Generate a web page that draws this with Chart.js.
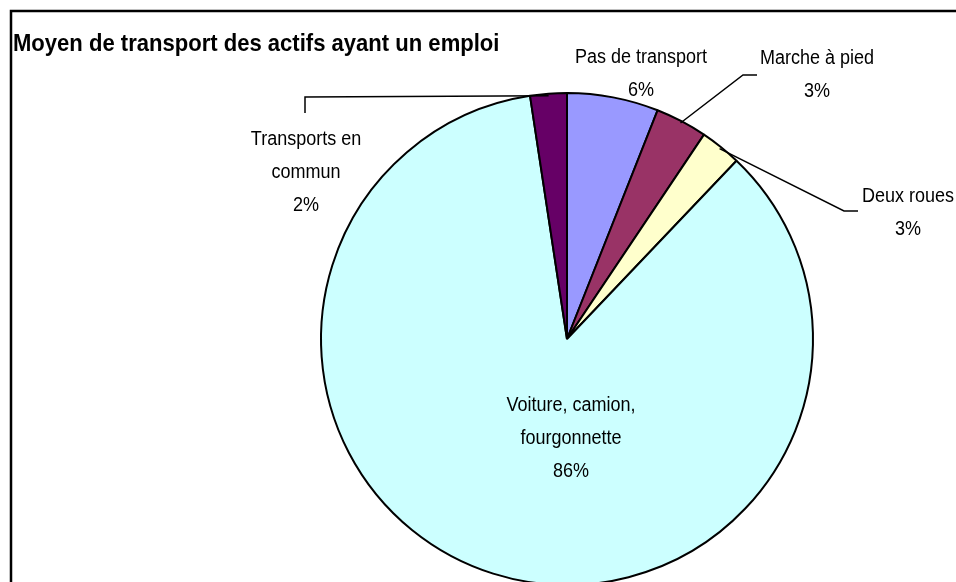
<!DOCTYPE html>
<html>
<head>
<meta charset="utf-8">
<script src="https://cdn.jsdelivr.net/npm/chart.js@4/dist/chart.umd.min.js"></script>
<style>
html,body{margin:0;padding:0;background:#fff;overflow:hidden;}
#wrap{position:absolute;left:0;top:0;width:956px;height:700px;}
</style>
</head>
<body>
<div id="wrap"><canvas id="c" width="956" height="700"></canvas></div>
<script>
// ---- data ----
const title = 'Moyen de transport des actifs ayant un emploi';
const categories = [
  ['Pas de transport'],
  ['Marche à pied'],
  ['Deux roues'],
  ['Voiture, camion,', 'fourgonnette'],
  ['Transports en', 'commun']
];
const shares = [6.0, 3.4, 2.7, 85.5, 2.4];
const colors = ['#9999FF', '#993366', '#FFFFCC', '#CCFFFF', '#660066'];

// ---- layout of labels (positions only) ----
const labelLayout = [
  {x: 641, y: 57, leader: null},
  {x: 817, y: 58, leader: [[743, 75], [757, 75]]},
  {x: 908, y: 196, leader: [[844, 211], [858, 211]]},
  {x: 571, y: 405, leader: null},
  {x: 306, y: 139, leader: [[305, 97], [305, 113]]}
];
const lineGap = 33;
const sx = 0.9;

function drawText(ctx, txt, x, y, font) {
  ctx.save();
  ctx.font = font;
  ctx.translate(x, y);
  ctx.scale(sx, 1);
  ctx.fillText(txt, 0, 0);
  ctx.restore();
}

const overlay = {
  id: 'overlay',
  afterDraw(chart) {
    const ctx = chart.ctx;
    ctx.save();
    // frame
    ctx.strokeStyle = '#000';
    ctx.lineWidth = 2.5;
    ctx.strokeRect(11, 11, 1000, 800);
    // title
    ctx.fillStyle = '#000';
    ctx.textAlign = 'left';
    ctx.textBaseline = 'middle';
    drawText(ctx, title, 13, 44, 'bold 24.5px "Liberation Sans", Arial, sans-serif');
    // labels
    const meta = chart.getDatasetMeta(0);
    const total = shares.reduce((a, b) => a + b, 0);
    ctx.textAlign = 'center';
    meta.data.forEach((arc, i) => {
      const L = labelLayout[i];
      const lines = categories[i].concat([Math.round(shares[i] / total * 100) + '%']);
      lines.forEach((t, k) => {
        drawText(ctx, t, L.x, L.y + k * lineGap, '20px "Liberation Sans", Arial, sans-serif');
      });
      if (L.leader) {
        const p = arc.getProps(['x', 'y', 'startAngle', 'endAngle', 'outerRadius'], true);
        const a = (p.startAngle + p.endAngle) / 2;
        const r = p.outerRadius - 2;
        ctx.beginPath();
        ctx.moveTo(p.x + Math.cos(a) * r, p.y + Math.sin(a) * r);
        L.leader.forEach(pt => ctx.lineTo(pt[0], pt[1]));
        ctx.strokeStyle = '#000';
        ctx.lineWidth = 1.5;
        ctx.stroke();
      }
    });
    ctx.restore();
  }
};

new Chart(document.getElementById('c'), {
  type: 'pie',
  data: {
    labels: categories,
    datasets: [{
      data: shares,
      backgroundColor: colors,
      borderColor: '#000',
      borderWidth: 2
    }]
  },
  options: {
    responsive: false,
    animation: false,
    layout: {padding: {left: 320, right: 142, top: 92, bottom: 114}},
    plugins: {legend: {display: false}, tooltip: {enabled: false}}
  },
  plugins: [overlay]
});
</script>
</body>
</html>
